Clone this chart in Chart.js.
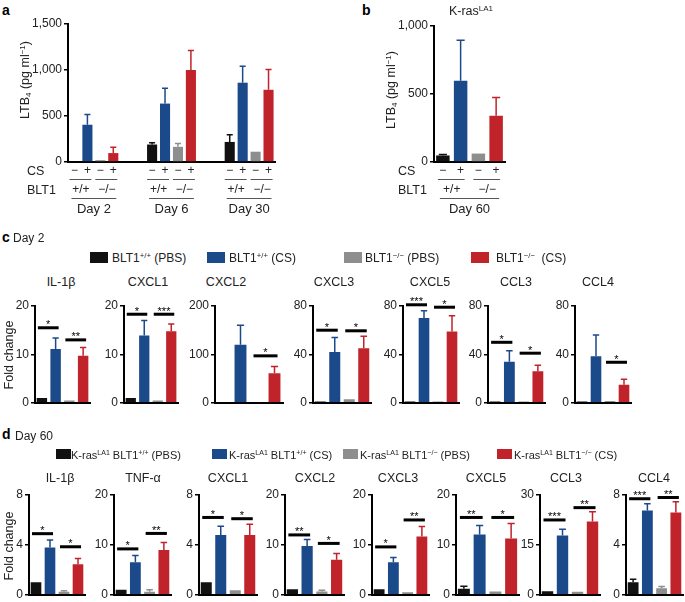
<!DOCTYPE html>
<html><head><meta charset="utf-8">
<script src="https://cdn.jsdelivr.net/npm/chart.js@4.4.1/dist/chart.umd.min.js"></script>
<style>
html,body{margin:0;padding:0;background:#fff;}
#fig{position:relative;width:685px;height:602px;overflow:hidden;font-family:"Liberation Sans",Arial,Helvetica,sans-serif;color:#222;background:#fff;}
.t{position:absolute;white-space:nowrap;line-height:1;}
.c{transform:translate(-50%,-50%);}
.l{transform:translate(0,-50%);}
.rot{transform:translate(-50%,-50%) rotate(-90deg);}
.sq{position:absolute;}
sup{font-size:0.64em;vertical-align:0;position:relative;top:-0.55em;}
sub{font-size:0.64em;vertical-align:0;position:relative;top:0.3em;}
canvas{position:absolute;}
</style></head>
<body><div id="fig"></div>
<script>
// ---------------- DATA ----------------
const groupNames = ['BLT1+/+ PBS','BLT1+/+ CS','BLT1-/- PBS','BLT1-/- CS'];
const csRow = ['−','+','−','+'];
const bltRow = ['+/+','−/−'];

// Panel a: LTB4 (pg/ml), days
const aDays = ['Day 2','Day 6','Day 30'];
const aWT_PBS = [10, 190, 218];
const aWT_CS  = [405, 635, 862];
const aKO_PBS = [20, 165, 112];
const aKO_CS  = [97, 1000, 785];
const aWT_PBS_err = [12, 208, 295];
const aWT_CS_err  = [515, 802, 1042];
const aKO_PBS_err = [22, 202, 114];
const aKO_CS_err  = [160, 1212, 1006];

// Panel b: K-rasLA1 Day 60
const bDays = ['Day 60'];
const bValues = [48, 598, 62, 340];
const bErr    = [55, 895, 65, 475];

// Panel c: Day 2 fold change
const c_IL1b = [1.0, 11.1, 0.5, 9.7];   const c_IL1b_err = [1.1, 13.4, 0.6, 11.4];
const c_IL1b_sig = [[0,1,15.5,'*'],[2,3,13.0,'**']];
const c_CXCL1 = [1.0, 13.9, 0.5, 14.8]; const c_CXCL1_err = [1.1, 17.0, 0.6, 16.3];
const c_CXCL1_sig = [[0,1,18.3,'*'],[2,3,18.3,'***']];
const c_CXCL2 = [1, 120, 1.5, 61];      const c_CXCL2_err = [1.5, 160, 2, 75];
const c_CXCL2_sig = [[2,3,97,'*']];
const c_CXCL3 = [1, 42, 3, 45];         const c_CXCL3_err = [1.5, 54, 3.5, 55];
const c_CXCL3_sig = [[0,1,60,'*'],[2,3,59.5,'*']];
const c_CXCL5 = [1, 70, 1, 59];         const c_CXCL5_err = [1.2, 76, 1.3, 72];
const c_CXCL5_sig = [[0,1,81,'***'],[2,3,79,'*']];
const c_CCL3 = [1, 34, 1, 26];          const c_CCL3_err = [1.2, 43, 1.3, 31];
const c_CCL3_sig = [[0,1,50,'*'],[2,3,41,'*']];
const c_CCL4 = [1, 38.5, 1.5, 15];      const c_CCL4_err = [1.2, 56, 1.8, 19.5];
const c_CCL4_sig = [[2,3,33.5,'*']];

// Panel d: Day 60 fold change
const d_IL1b = [1.0, 3.8, 0.25, 2.45];  const d_IL1b_err = [1.05, 4.4, 0.33, 2.9];
const d_IL1b_sig = [[0,1,4.9,'*'],[2,3,3.85,'*']];
const d_TNFa = [1.0, 6.5, 0.6, 9.0];    const d_TNFa_err = [1.1, 7.9, 1.0, 10.5];
const d_TNFa_sig = [[0,1,9.2,'*'],[2,3,12.3,'**']];
const d_CXCL1 = [1.0, 4.8, 0.37, 4.8];  const d_CXCL1_err = [1.05, 5.5, 0.42, 5.65];
const d_CXCL1_sig = [[0,1,6.2,'*'],[2,3,6.1,'*']];
const d_CXCL2 = [1.1, 9.8, 0.65, 7.0];  const d_CXCL2_err = [1.15, 11.1, 0.9, 8.3];
const d_CXCL2_sig = [[0,1,12.0,'**'],[2,3,10.3,'*']];
const d_CXCL3 = [1.1, 6.5, 0.53, 11.7]; const d_CXCL3_err = [1.2, 7.5, 0.6, 13.7];
const d_CXCL3_sig = [[0,1,9.6,'*'],[2,3,15.0,'**']];
const d_CXCL5 = [1.2, 12.1, 0.65, 11.3]; const d_CXCL5_err = [1.7, 13.9, 0.8, 14.3];
const d_CXCL5_sig = [[0,1,15.5,'**'],[2,3,15.5,'*']];
const d_CCL3 = [1.1, 17.8, 0.9, 22.0];  const d_CCL3_err = [1.2, 19.7, 1.0, 25.0];
const d_CCL3_sig = [[0,1,22.5,'***'],[2,3,26.2,'**']];
const d_CCL4 = [1.0, 6.75, 0.53, 6.6];  const d_CCL4_err = [1.25, 7.3, 0.67, 7.45];
const d_CCL4_sig = [[0,1,7.7,'***'],[2,3,7.8,'**']];

// ---------------- STYLE ----------------
const COLORS = ['#111111','#1b4a8b','#8e8e8e','#c1232b'];
const FONT = '"Liberation Sans", Arial, Helvetica, sans-serif';
Chart.defaults.font.family = FONT;
Chart.defaults.color = '#222';
Chart.defaults.animation = false;

const errPlugin = {
  id:'errbars',
  afterDatasetsDraw(chart){
    const ctx = chart.ctx, ys = chart.scales.y;
    chart.data.datasets.forEach((ds, di)=>{
      if(!ds.errTop) return;
      const meta = chart.getDatasetMeta(di);
      meta.data.forEach((bar, i)=>{
        const e = ds.errTop[i];
        if(e==null || ds.data[i]==null) return;
        const col = Array.isArray(ds.backgroundColor)?ds.backgroundColor[i]:ds.backgroundColor;
        const y0 = bar.y, y1 = ys.getPixelForValue(e);
        if(y0 - y1 < 0.8) return;
        const half = bar.width*0.3;
        ctx.save(); ctx.strokeStyle = col; ctx.lineWidth = 1.5;
        ctx.beginPath(); ctx.moveTo(bar.x, y0); ctx.lineTo(bar.x, y1);
        ctx.moveTo(bar.x-half, y1); ctx.lineTo(bar.x+half, y1); ctx.stroke();
        ctx.restore();
      });
    });
  }
};
const sigPlugin = {
  id:'sigbars',
  afterDatasetsDraw(chart){
    const ds = chart.data.datasets[0];
    if(!ds.sig) return;
    const meta = chart.getDatasetMeta(0), ys = chart.scales.y, ctx = chart.ctx;
    ds.sig.forEach(it=>{
      const a = meta.data[it[0]], b = meta.data[it[1]];
      const y = ys.getPixelForValue(it[2]);
      const x1 = a.x - 4, x2 = b.x + 3;
      ctx.save(); ctx.fillStyle = '#000';
      ctx.fillRect(x1, y-1.5, x2-x1, 3);
      ctx.font = '11px ' + FONT; ctx.textAlign = 'center'; ctx.textBaseline = 'alphabetic';
      ctx.fillText(it[3], (x1+x2)/2, y+0.5);
      ctx.restore();
    });
  }
};
const subPlugin = {
  id:'sublabels',
  afterDraw(chart){
    const ds = chart.data.datasets[0];
    if(!ds.groups) return;
    const meta = chart.getDatasetMeta(0), ctx = chart.ctx, base = chart.chartArea.bottom;
    const line = (x1,x2,y)=>{ctx.beginPath();ctx.moveTo(x1,y);ctx.lineTo(x2,y);ctx.stroke();};
    ctx.save(); ctx.fillStyle = '#222'; ctx.strokeStyle = '#555'; ctx.lineWidth = 1;
    ctx.textAlign = 'center'; ctx.textBaseline = 'middle';
    ds.groups.forEach(g=>{
      const xs = g.idx.map(i=>meta.data[i].x);
      ctx.font = '12px ' + FONT;
      csRow.forEach((t,k)=>ctx.fillText(t, xs[k], base+9));
      line(xs[0]-5, xs[1]+4, base+17.5); line(xs[2]-5, xs[3]+4, base+17.5);
      ctx.fillText(bltRow[0], (xs[0]+xs[1])/2, base+27.5);
      ctx.fillText(bltRow[1], (xs[2]+xs[3])/2, base+27.5);
      line(xs[0]-3, xs[3]+3, base+36.5);
      ctx.font = '13px ' + FONT;
      ctx.fillText(g.day, (xs[0]+xs[3])/2, base+47);
    });
    ctx.restore();
  }
};
Chart.register(errPlugin, sigPlugin, subPlugin);

const fig = document.getElementById('fig');
function makeChart(spec){
  const cv = document.createElement('canvas');
  const yW = spec.yW || 30, padT = spec.padT || 14, padB = spec.padB || 8, padR = 4;
  const W = yW + spec.w + padR, H = padT + spec.h + padB;
  cv.width = W; cv.height = H;
  cv.style.left = (spec.x - yW) + 'px'; cv.style.top = (spec.y - padT) + 'px';
  cv.style.width = W + 'px'; cv.style.height = H + 'px';
  fig.appendChild(cv);
  new Chart(cv, {
    type:'bar',
    data:{labels: spec.labels, datasets:[{
      data: spec.values, backgroundColor: spec.colors, errTop: spec.err, sig: spec.sig, groups: spec.groups,
      barPercentage: spec.bp || 0.75, categoryPercentage: 1, borderWidth: 0
    }]},
    options:{
      responsive:false, animation:false, devicePixelRatio:1,
      layout:{padding:{top:padT, bottom:padB, right:padR, left:0}},
      plugins:{legend:{display:false}, tooltip:{enabled:false}, title:{display:false}},
      scales:{
        x:{ grid:{display:true, drawOnChartArea:false, drawTicks:false}, ticks:{display:false},
            border:{display:true, color:'#000', width:2}, afterFit(s){ s.height = 0; } },
        y:{ min:0, max:spec.max,
            ticks:{stepSize:spec.step, padding:2, color:'#222', font:{size:12}, callback:v=>v.toLocaleString('en-US')},
            grid:{display:true, drawOnChartArea:false, drawTicks:true, tickLength:4, color:'#000', lineWidth:1.5},
            border:{display:true, color:'#000', width:2}, afterFit(s){ s.width = yW; } }
      }
    }
  });
}

function text(html, x, y, cls, size, extra){
  const d = document.createElement('div');
  d.className = 't ' + cls; d.innerHTML = html;
  d.style.left = x + 'px'; d.style.top = y + 'px'; d.style.fontSize = size + 'px';
  if(extra) Object.assign(d.style, extra);
  fig.appendChild(d);
}
function square(x, y, w, h, col){
  const d = document.createElement('div'); d.className = 'sq';
  Object.assign(d.style, {left:x+'px', top:y+'px', width:w+'px', height:h+'px', background:col});
  fig.appendChild(d);
}

// ---------------- PANEL A ----------------
(function(){
  const vals = [], errs = [], cols = [], labs = [], groups = [];
  const series = [aWT_PBS, aWT_CS, aKO_PBS, aKO_CS];
  const serr = [aWT_PBS_err, aWT_CS_err, aKO_PBS_err, aKO_CS_err];
  aDays.forEach((day, g)=>{
    if(g>0){ for(let k=0;k<2;k++){ vals.push(null); errs.push(null); cols.push('#fff'); labs.push(''); } }
    const idx = [];
    series.forEach((s,k)=>{ idx.push(vals.length); vals.push(s[g]); errs.push(serr[k][g]); cols.push(COLORS[k]); labs.push(day+' '+groupNames[k]); });
    groups.push({idx, day});
  });
  makeChart({x:68, y:24, w:207, h:138, yW:45, padT:12, padB:56, max:1500, step:500,
    labels:labs, values:vals, colors:cols, err:errs, groups, bp:0.78});
})();

// ---------------- PANEL B ----------------
makeChart({x:434, y:26, w:71, h:136, yW:45, padT:12, padB:56, max:1000, step:500,
  labels:groupNames, values:bValues, colors:COLORS, err:bErr, groups:[{idx:[0,1,2,3], day:bDays[0]}], bp:0.76});

// ---------------- PANEL C ----------------
const cSpecs = [
  {title:'IL-1β', tx:61,  x:35,  w:55, max:20,  step:10, v:c_IL1b,  e:c_IL1b_err,  s:c_IL1b_sig},
  {title:'CXCL1', tx:148, x:124, w:54, max:20,  step:10, v:c_CXCL1, e:c_CXCL1_err, s:c_CXCL1_sig},
  {title:'CXCL2', tx:226, x:215, w:68, max:200, step:100, v:c_CXCL2, e:c_CXCL2_err, s:c_CXCL2_sig, bp:0.7},
  {title:'CXCL3', tx:334, x:313, w:58, max:80,  step:40, v:c_CXCL3, e:c_CXCL3_err, s:c_CXCL3_sig},
  {title:'CXCL5', tx:430, x:403, w:56, max:80,  step:40, v:c_CXCL5, e:c_CXCL5_err, s:c_CXCL5_sig},
  {title:'CCL3',  tx:516, x:488, w:57, max:80,  step:40, v:c_CCL3,  e:c_CCL3_err,  s:c_CCL3_sig},
  {title:'CCL4',  tx:598, x:575, w:56, max:80,  step:40, v:c_CCL4,  e:c_CCL4_err,  s:c_CCL4_sig}
];
cSpecs.forEach(c=>{
  makeChart({x:c.x, y:306, w:c.w, h:98, max:c.max, step:c.step, labels:groupNames, values:c.v, colors:COLORS, err:c.e, sig:c.s, bp:c.bp||0.76});
  text(c.title, c.tx, 282, 'c', 12.5);
});

// ---------------- PANEL D ----------------
const dSpecs = [
  {title:'IL-1β', tx:60,  x:29,  w:56, max:8,  step:4,  v:d_IL1b,  e:d_IL1b_err,  s:d_IL1b_sig},
  {title:'TNF-α', tx:143, x:114, w:57, max:20, step:10, v:d_TNFa,  e:d_TNFa_err,  s:d_TNFa_sig},
  {title:'CXCL1', tx:228, x:199, w:58, max:8,  step:4,  v:d_CXCL1, e:d_CXCL1_err, s:d_CXCL1_sig},
  {title:'CXCL2', tx:315, x:285, w:59, max:20, step:10, v:d_CXCL2, e:d_CXCL2_err, s:d_CXCL2_sig},
  {title:'CXCL3', tx:398, x:372, w:57, max:20, step:10, v:d_CXCL3, e:d_CXCL3_err, s:d_CXCL3_sig},
  {title:'CXCL5', tx:486, x:456, w:63, max:20, step:10, v:d_CXCL5, e:d_CXCL5_err, s:d_CXCL5_sig},
  {title:'CCL3',  tx:566, x:540, w:60, max:30, step:15, v:d_CCL3,  e:d_CCL3_err,  s:d_CCL3_sig},
  {title:'CCL4',  tx:654, x:626, w:57, max:8,  step:4,  v:d_CCL4,  e:d_CCL4_err,  s:d_CCL4_sig}
];
dSpecs.forEach(c=>{
  makeChart({x:c.x, y:495, w:c.w, h:101, max:c.max, step:c.step, labels:groupNames, values:c.v, colors:COLORS, err:c.e, sig:c.s, bp:0.76});
  text(c.title, c.tx, 478, 'c', 12.5);
});

// ---------------- TEXT ----------------
const bold = {fontWeight:'bold', color:'#000'};
text('a', 2, 10, 'l', 14, bold);
text('b', 362, 10, 'l', 14, bold);
text('c', 2, 237, 'l', 14, bold);
text('d', 2, 434, 'l', 14, bold);
text('K-ras<sup>LA1</sup>', 471, 11, 'c', 12.5);
text('LTB<sub>4</sub> (pg ml<sup>−1</sup>)', 25, 80, 'rot', 12.5);
text('LTB<sub>4</sub> (pg ml<sup>−1</sup>)', 391, 90, 'rot', 12.5);
text('CS', 27, 171, 'l', 12.5);
text('BLT1', 27, 189.5, 'l', 12.5);
text('CS', 398, 171, 'l', 12.5);
text('BLT1', 398, 189.5, 'l', 12.5);
text('Day 2', 13, 238, 'l', 12);
text('Day 60', 15, 436, 'l', 12);
text('Fold change', 9, 355, 'rot', 12.5);
text('Fold change', 9, 546, 'rot', 12.5);

// legend c
const legC = ['BLT1<sup>+/+</sup> (PBS)','BLT1<sup>+/+</sup> (CS)','BLT1<sup>−/−</sup> (PBS)','BLT1<sup>−/−</sup>&nbsp; (CS)'];
const legCsq = [90, 207, 344, 471], legCtx = [112, 229, 365, 496];
legC.forEach((h,i)=>{ square(legCsq[i], 252, 18, 11, COLORS[i]); text(h, legCtx[i], 258, 'l', 12); });
// legend d
const legD = ['K-ras<sup>LA1</sup> BLT1<sup>+/+</sup> (PBS)','K-ras<sup>LA1</sup> BLT1<sup>+/+</sup> (CS)','K-ras<sup>LA1</sup> BLT1<sup>−/−</sup> (PBS)','K-ras<sup>LA1</sup> BLT1<sup>−/−</sup> (CS)'];
const legDsq = [56, 212, 343, 497], legDtx = [71, 229, 360, 514];
legD.forEach((h,i)=>{ square(legDsq[i], 449, 15, 10, COLORS[i]); text(h, legDtx[i], 454.5, 'l', 11); });
</script>
</body></html>
